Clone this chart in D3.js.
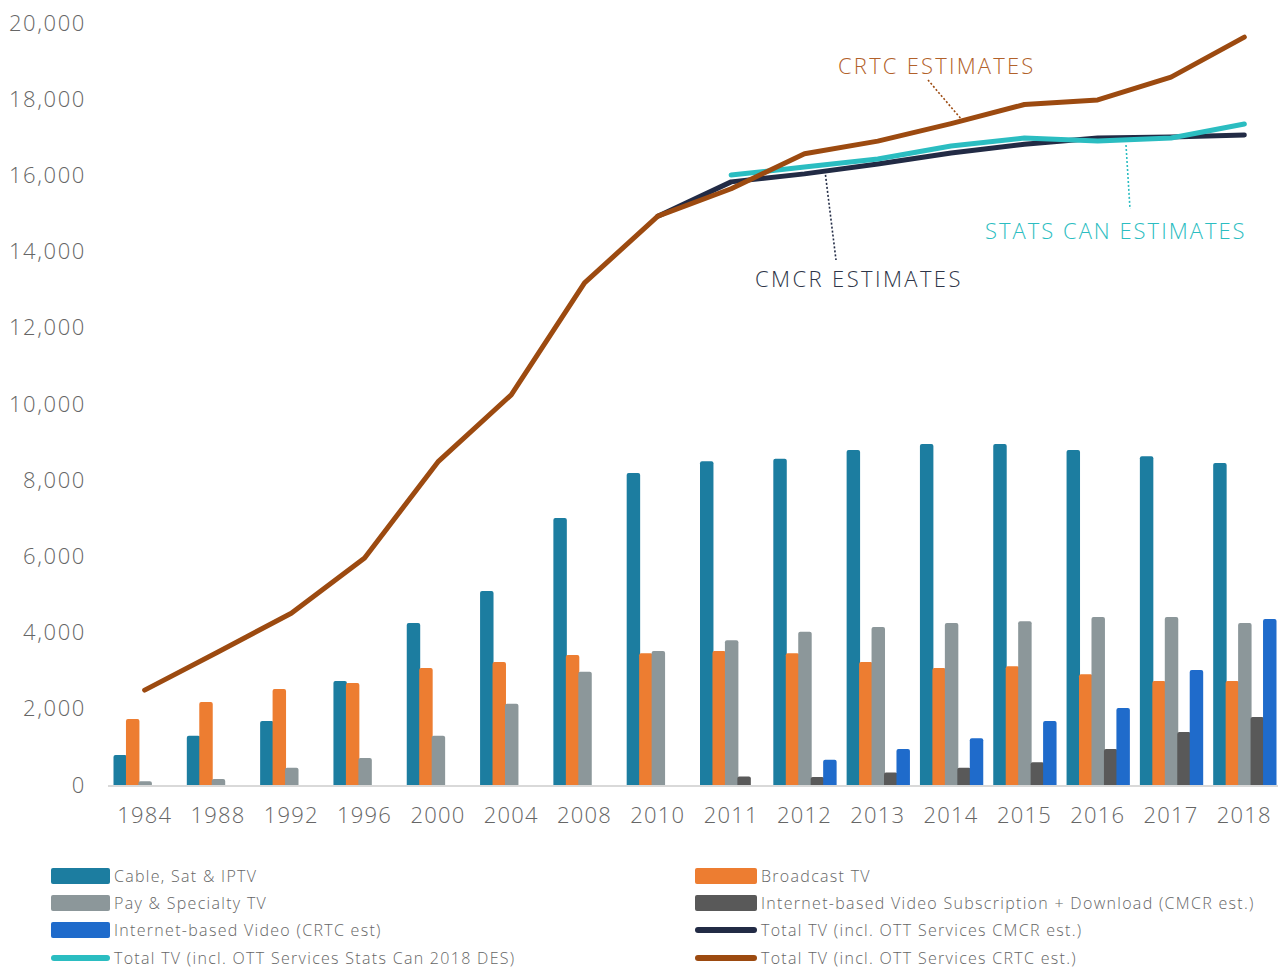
<!DOCTYPE html>
<html>
<head>
<meta charset="utf-8">
<script src="https://cdn.jsdelivr.net/npm/d3@7"></script>
<style>
  html, body { margin: 0; padding: 0; background: #fff; }
  svg { display: block; font-family: "Open Sans", "Lato", sans-serif; }
</style>
</head>
<body>
<svg id="chart" width="1278" height="968"></svg>
<script>
const years = ["1984","1988","1992","1996","2000","2004","2008","2010","2011","2012","2013","2014","2015","2016","2017","2018"];
const cableSatIptv   = [790, 1290, 1680, 2730, 4250, 5090, 7010, 8190, 8500, 8560, 8790, 8950, 8950, 8790, 8630, 8450];
const broadcastTv    = [1730, 2180, 2520, 2680, 3070, 3230, 3410, 3460, 3520, 3460, 3230, 3070, 3120, 2910, 2730, 2730];
const paySpecialty   = [100, 160, 450, 710, 1290, 2130, 2970, 3520, 3800, 4020, 4150, 4250, 4300, 4410, 4410, 4250];
const internetSubDl  = [null, null, null, null, null, null, null, null, 220, 210, 330, 450, 600, 945, 1390, 1785];
const internetVideo  = [null, null, null, null, null, null, null, null, null, 660, 945, 1230, 1680, 2020, 3020, 4360];
const totalCmcr      = [null, null, null, null, null, null, null, 14930, 15830, 16040, 16300, 16590, 16820, 16980, 17010, 17060];
const totalStatsCan  = [null, null, null, null, null, null, null, null, 16010, 16220, 16430, 16770, 16980, 16900, 16980, 17350];
const totalCrtc      = [2490, 3490, 4510, 5960, 8480, 10240, 13180, 14930, 15650, 16570, 16900, 17360, 17860, 17980, 18580, 19630];
const yTicks = [0, 2000, 4000, 6000, 8000, 10000, 12000, 14000, 16000, 18000, 20000];

const barSeries = [
  { name: "Cable, Sat & IPTV", values: cableSatIptv, color: "#1C7DA0" },
  { name: "Broadcast TV", values: broadcastTv, color: "#ED7D31" },
  { name: "Pay & Specialty TV", values: paySpecialty, color: "#8C979A" },
  { name: "Internet-based Video Subscription + Download (CMCR est.)", values: internetSubDl, color: "#595959" },
  { name: "Internet-based Video (CRTC est)", values: internetVideo, color: "#1F6BCB" }
];
const lineSeries = [
  { name: "Total TV (incl. OTT Services  CMCR est.)", values: totalCmcr, color: "#222B45" },
  { name: "Total TV (incl. OTT Services  Stats Can 2018 DES)", values: totalStatsCan, color: "#2BBDC1" },
  { name: "Total TV (incl. OTT Services  CRTC est.)", values: totalCrtc, color: "#9C4A10" }
];

const svg = d3.select("#chart");
const y = d3.scaleLinear().domain([0, 20000]).range([785, 23]);
const x = d3.scaleBand().domain(years).range([108, 1281]).paddingInner(0).paddingOuter(0);
const inner = d3.scaleBand().domain(d3.range(barSeries.length)).range([5.5, x.bandwidth() - 5.5]);

// y axis labels
const yAxis = d3.axisLeft(y).tickValues(yTicks).tickFormat(d3.format(",")).tickSize(0).tickPadding(0);
const gy = svg.append("g").attr("transform", "translate(86,0)").call(yAxis);
gy.select(".domain").remove();
gy.selectAll("text").attr("fill", "#666666").style("font-size", "22px").style("font-weight", 300)
  .style("font-family", "'Open Sans', sans-serif").attr("letter-spacing", "1.6px");

// bars
const bw = inner.bandwidth() + 1;
barSeries.forEach((s, si) => {
  const g = svg.append("g");
  years.forEach((yr, i) => {
    const v = s.values[i];
    if (v == null) return;
    const x0 = x(yr) + inner(si);
    const y0 = y(v), y1 = y(0);
    const r = 2;
    const p = `M${x0},${y1} L${x0},${y0 + r} Q${x0},${y0} ${x0 + r},${y0} L${x0 + bw - r},${y0} Q${x0 + bw},${y0} ${x0 + bw},${y0 + r} L${x0 + bw},${y1} Z`;
    g.append("path").attr("d", p).attr("fill", s.color);
  });
});

// x axis
const xAxis = d3.axisBottom(x).tickSize(0).tickPadding(0);
const gx = svg.append("g").attr("transform", "translate(0,786)").call(xAxis);
gx.select(".domain").attr("stroke", "#D9D9D9").attr("stroke-width", 2).attr("d", "M108,0H1278");
gx.selectAll("text").attr("fill", "#666666").attr("dy", "0").attr("y", 37)
  .style("font-size", "22px").style("font-weight", 300).style("font-family", "'Open Sans', sans-serif")
  .attr("letter-spacing", "1.2px");

// lines
const cx = d => x(d) + x.bandwidth() / 2;
lineSeries.forEach(s => {
  const line = d3.line()
    .defined(d => d.v != null)
    .x(d => cx(d.yr))
    .y(d => y(d.v));
  svg.append("path")
    .datum(years.map((yr, i) => ({ yr, v: s.values[i] })))
    .attr("d", line)
    .attr("fill", "none")
    .attr("stroke", s.color)
    .attr("stroke-width", 5)
    .attr("stroke-linecap", "round")
    .attr("stroke-linejoin", "round");
});

// annotations
const annos = [
  { text: "CRTC ESTIMATES", color: "#B2612A", tx: 838, ty: 74, ls: 2.2, x1: 928, y1: 80, x2: 962, y2: 120, lc: "#9C4A10" },
  { text: "CMCR ESTIMATES", color: "#2E3548", tx: 755, ty: 287, ls: 2.4, x1: 825, y1: 171, x2: 836, y2: 260, lc: "#222B45" },
  { text: "STATS CAN ESTIMATES", color: "#2BBDC1", tx: 985, ty: 239, ls: 2.0, x1: 1126, y1: 145, x2: 1130, y2: 209, lc: "#2BBDC1" }
];
annos.forEach(a => {
  svg.append("line").attr("x1", a.x1).attr("y1", a.y1).attr("x2", a.x2).attr("y2", a.y2)
    .attr("stroke", a.lc).attr("stroke-width", 1.6).attr("stroke-dasharray", "2,2");
  svg.append("text").attr("x", a.tx).attr("y", a.ty).text(a.text)
    .attr("fill", a.color).style("font-size", "22px").style("font-weight", 300).attr("letter-spacing", a.ls + "px");
});

// legend
const legendItems = [
  { item: barSeries[0], type: "bar", col: 0, row: 0 },
  { item: barSeries[1], type: "bar", col: 1, row: 0 },
  { item: barSeries[2], type: "bar", col: 0, row: 1 },
  { item: barSeries[3], type: "bar", col: 1, row: 1 },
  { item: barSeries[4], type: "bar", col: 0, row: 2 },
  { item: lineSeries[0], type: "line", col: 1, row: 2 },
  { item: lineSeries[1], type: "line", col: 0, row: 3 },
  { item: lineSeries[2], type: "line", col: 1, row: 3 }
];
const colX = [51, 695];
const swW = [59, 62];
const rowY = [876, 903, 930, 958];
const lg = svg.append("g");
legendItems.forEach(l => {
  const sx = colX[l.col], sy = rowY[l.row];
  if (l.type === "bar") {
    lg.append("rect").attr("x", sx).attr("y", sy - 8).attr("width", swW[l.col]).attr("height", 16).attr("rx", 2)
      .attr("fill", l.item.color);
  } else {
    lg.append("rect").attr("x", sx).attr("y", sy - 3).attr("width", swW[l.col]).attr("height", 6).attr("rx", 3)
      .attr("fill", l.item.color);
  }
  lg.append("text").attr("x", sx + swW[l.col] + 4).attr("y", sy + 6).text(l.item.name)
    .attr("fill", "#666666").style("font-size", "16px").style("font-weight", 300).attr("letter-spacing", "1.3px");
});
</script>
</body>
</html>
